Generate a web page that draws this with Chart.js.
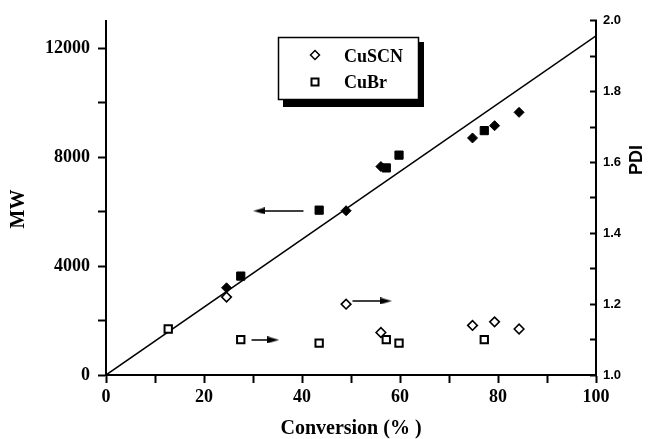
<!DOCTYPE html>
<html>
<head>
<meta charset="utf-8">
<script src="https://cdn.jsdelivr.net/npm/chart.js@4.4.0/dist/chart.umd.min.js"></script>
<style>
  html, body { margin: 0; padding: 0; background: #fff; }
  #wrap { width: 648px; height: 439px; }
</style>
</head>
<body>
<div id="wrap"><canvas id="chart" width="648" height="439"></canvas></div>
<script>
// conversion (%) and values
const convSCN = [24.6, 49.0, 56.1, 74.8, 79.3, 84.3];
const mwSCN = [3200, 6030, 7650, 8700, 9150, 9640];
const pdiSCN = [1.22, 1.20, 1.12, 1.14, 1.15, 1.13];

const convBr = [12.7, 27.5, 43.5, 57.2, 59.8, 77.2];
const mwBr = [null, 3630, 6050, 7600, 8070, 8970];
const pdiBr = [1.13, 1.10, 1.09, 1.10, 1.09, 1.10];

// theoretical MW line
const fitX = [0, 100];
const fitY = [0, 12450];

// arrows: shaft start, arrowhead centre
const arrowMWx = [40.3, 31.3];
const arrowMWy = [6020, 6020];
const arrowBrX = [29.7, 34.1];
const arrowBrY = [1.099, 1.099];
const arrowSCNx = [50.3, 57.1];
const arrowSCNy = [1.209, 1.209];

// axis ticks (labels only on every other one)
const mwTicks = [0, 2000, 4000, 6000, 8000, 10000, 12000];
const mwLabels = [0, 4000, 8000, 12000];

const serif = '"Liberation Serif", "Times New Roman", serif';
const sans = '"Liberation Sans", Arial, sans-serif';

// arrowhead image, points right
const head = document.createElement('canvas');
head.width = 12; head.height = 7;
(function () {
  const c = head.getContext('2d');
  c.fillStyle = '#000';
  c.beginPath();
  c.moveTo(0, 0); c.lineTo(12, 3.5); c.lineTo(0, 7); c.closePath();
  c.fill();
})();

const pts = (xs, ys) => xs.map((x, i) => ({ x: x, y: ys[i] }));

function arrow(xs, ys, axis, rot) {
  return {
    data: pts(xs, ys),
    yAxisID: axis,
    showLine: true,
    borderColor: '#000',
    borderWidth: 1.5,
    pointRadius: [0, 3],
    pointStyle: ['circle', head],
    rotation: [0, rot]
  };
}

const extras = {
  id: 'extras',
  afterDraw(chart) {
    const ctx = chart.ctx;
    ctx.save();
    // legend box with shadow
    ctx.fillStyle = '#000';
    ctx.fillRect(283, 42, 141, 65);
    ctx.fillStyle = '#fff';
    ctx.fillRect(278, 37, 141, 63);
    ctx.strokeStyle = '#000';
    ctx.lineWidth = 1.5;
    ctx.strokeRect(278.5, 37.5, 140, 62);

    // open diamond
    ctx.beginPath();
    ctx.moveTo(315, 50.5); ctx.lineTo(319.5, 55); ctx.lineTo(315, 59.5); ctx.lineTo(310.5, 55);
    ctx.closePath();
    ctx.stroke();
    // open square
    ctx.lineWidth = 2;
    ctx.strokeRect(311.5, 78.5, 7, 7);

    ctx.fillStyle = '#000';
    ctx.font = 'bold 18px ' + serif;
    ctx.textBaseline = 'middle';
    ctx.textAlign = 'left';
    ctx.fillText('CuSCN', 344, 57);
    ctx.fillText('CuBr', 344, 83);
    ctx.textAlign = 'center';

    // left axis title
    ctx.save();
    ctx.translate(19, 209);
    ctx.rotate(-Math.PI / 2);
    ctx.font = 'bold 20px ' + serif;
    ctx.fillText('MW', 0, 0);
    ctx.restore();

    // right axis title
    ctx.translate(637, 160);
    ctx.rotate(-Math.PI / 2);
    ctx.font = 'bold 18px ' + sans;
    ctx.fillText('PDI', 0, 0);
    ctx.restore();
  }
};

new Chart(document.getElementById('chart'), {
  type: 'scatter',
  data: {
    datasets: [
      {
        label: 'CuSCN MW', data: pts(convSCN, mwSCN), yAxisID: 'yMW',
        pointStyle: 'rectRot', pointRadius: 5,
        backgroundColor: '#000', borderColor: '#000', borderWidth: 1
      },
      {
        label: 'CuBr MW', data: pts(convBr, mwBr), yAxisID: 'yMW',
        pointStyle: 'rect', pointRadius: 5.8,
        backgroundColor: '#000', borderColor: '#000', borderWidth: 1
      },
      {
        label: 'CuSCN PDI', data: pts(convSCN, pdiSCN), yAxisID: 'yPDI',
        pointStyle: 'rectRot', pointRadius: 4.8,
        backgroundColor: '#fff', borderColor: '#000', borderWidth: 1.6
      },
      {
        label: 'CuBr PDI', data: pts(convBr, pdiBr), yAxisID: 'yPDI',
        pointStyle: 'rect', pointRadius: 5.2,
        backgroundColor: '#fff', borderColor: '#000', borderWidth: 2
      },
      {
        label: 'fit', data: pts(fitX, fitY), yAxisID: 'yMW',
        showLine: true, pointRadius: 0, borderColor: '#000', borderWidth: 1.5
      },
      arrow(arrowMWx, arrowMWy, 'yMW', 180),
      arrow(arrowBrX, arrowBrY, 'yPDI', 0),
      arrow(arrowSCNx, arrowSCNy, 'yPDI', 0)
    ]
  },
  options: {
    responsive: false,
    animation: false,
    events: [],
    layout: { padding: { top: 19, left: 0, right: 0, bottom: 0 } },
    plugins: { legend: { display: false }, tooltip: { enabled: false } },
    scales: {
      x: {
        type: 'linear', min: 0, max: 100,
        afterFit: (s) => { s.height = 64; },
        border: { color: '#000', width: 2 },
        grid: { drawOnChartArea: false, color: '#000', tickLength: 8, tickWidth: 2 },
        ticks: {
          stepSize: 10, autoSkip: false, maxRotation: 0, padding: 4,
          color: '#000', font: { family: serif, size: 18, weight: 'bold' },
          callback: (v) => (v % 20 === 0 ? v : '')
        },
        title: {
          display: true, text: 'Conversion (% )', color: '#000',
          font: { family: serif, size: 20, weight: 'bold', lineHeight: 1 },
          padding: { top: 0, bottom: 0 }
        }
      },
      yMW: {
        type: 'linear', position: 'left', min: 0, max: 13000,
        afterFit: (s) => { s.width = 106; },
        afterBuildTicks: (s) => { s.ticks = mwTicks.map((v) => ({ value: v })); },
        border: { color: '#000', width: 2 },
        grid: { drawOnChartArea: false, color: '#000', tickLength: 8, tickWidth: 2 },
        ticks: {
          autoSkip: false, padding: 8,
          color: '#000', font: { family: serif, size: 18, weight: 'bold' },
          callback: (v) => (mwLabels.includes(v) ? v : '')
        }
      },
      yPDI: {
        type: 'linear', position: 'right', min: 1, max: 2,
        afterFit: (s) => { s.width = 52; },
        border: { color: '#000', width: 2 },
        grid: { drawOnChartArea: false, color: '#000', tickLength: -6, tickWidth: 2 },
        ticks: {
          stepSize: 0.1, autoSkip: false, padding: 13,
          color: '#000', font: { family: sans, size: 13, weight: 'bold' },
          callback: (v) => {
            const k = Math.round(v * 10);
            return k % 2 === 0 ? (k / 10).toFixed(1) : '';
          }
        }
      }
    }
  },
  plugins: [extras]
});
</script>
</body>
</html>
